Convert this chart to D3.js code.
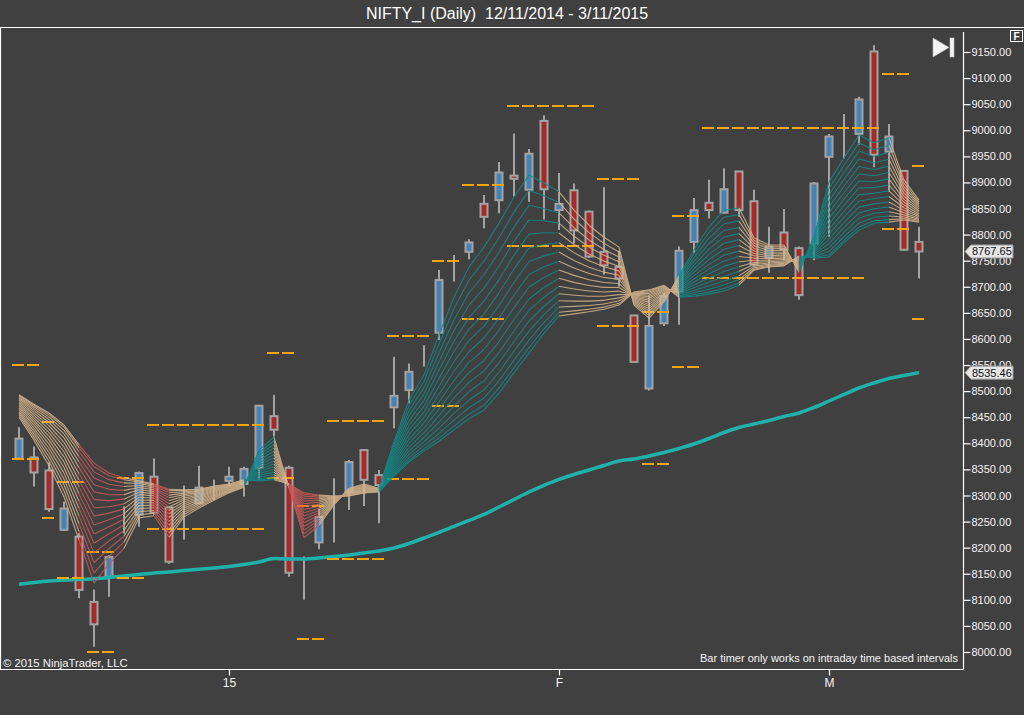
<!DOCTYPE html>
<html>
<head>
<meta charset="utf-8">
<script src="https://cdnjs.cloudflare.com/ajax/libs/d3/7.8.5/d3.min.js"></script>
<style>
  body { margin: 0; background: #404040; overflow: hidden; }
  svg { display: block; font-family: Arial, "Liberation Sans", sans-serif; }
</style>
</head>
<body>
<svg id="chart" width="1024" height="715"></svg>
<script>
// daily bars, 1..61
const opens  = [8371,8373,8348,8234,8221,8096,8144,8238,8263,8336,8277,8275,8285,8327,8328,8322,8353,8452,8353,8155,
                8210,8312,8307,8387,8339,8469,8502,8578,8612,8742,8767,8859,8866,8913,8886,9018,8847,8885,8844,8767,
                8738,8645,8505,8630,8691,8786,8861,8842,8921,8864,8755,8804,8774,8783,8949,9006,8993,9151,8959,8922,8786];
const highs  = [8431,8394,8363,8288,8228,8120,8186,8279,8346,8371,8279,8319,8357,8330,8355,8355,8474,8493,8357,8183,
                8274,8333,8368,8389,8349,8566,8553,8588,8732,8761,8791,8876,8939,8994,8964,9029,8918,8898,8846,8891,
                8769,8646,8684,8688,8777,8870,8905,8927,8922,8886,8815,8849,8777,8901,8993,9031,9064,9163,9012,8924,8815];
const lows   = [8368,8317,8269,8232,8103,8010,8106,8227,8240,8263,8169,8215,8284,8291,8317,8298,8330,8413,8144,8100,
                8197,8210,8272,8280,8247,8429,8477,8547,8598,8710,8753,8812,8841,8873,8863,8829,8809,8783,8755,8723,
                8700,8555,8501,8625,8627,8765,8831,8841,8834,8739,8727,8751,8675,8751,8796,8946,8972,8929,8882,8769,8716];
const closes = [8409,8344,8274,8275,8119,8053,8182,8238,8343,8267,8173,8275,8315,8327,8336,8351,8472,8426,8152,8155,
                8259,8312,8364,8330,8320,8491,8537,8578,8713,8742,8785,8834,8919,8907,8955,8887,8859,8808,8758,8741,
                8716,8556,8625,8682,8769,8847,8847,8887,8847,8743,8777,8771,8684,8898,8988,9006,9059,8953,8988,8771,8767.65];

// slow moving average (thick line)
const slowMA = [8129.8,8133.2,8136.1,8138.0,8139.0,8140.5,8142.8,8145.7,8148.6,8151.4,8153.4,8156.2,8158.5,8161.0,8163.9,
                8167.7,8172.5,8179.2,8178.3,8178.3,8180.2,8183.1,8185.9,8189.8,8193.6,8199.4,8208.0,8218.5,8229.1,8240.6,
                8252.1,8263.6,8277.9,8292.3,8306.7,8319.2,8330.7,8340.2,8348.9,8357.5,8366.1,8370.0,8375.7,8382.4,8390.1,
                8398.7,8409.2,8420.7,8430.3,8437.0,8443.7,8451.4,8458.1,8468.7,8481.1,8493.6,8506.0,8515.6,8524.2,8530.0,8535.46];

// ribbon: fastest and slowest member
const ribbonFast = [8450,8406,8357,8297,8215,8132,8169,8199,8257,8261,8220,8259,8276,8291,8305,8316,8387,8412,8314,8219,
                    8243,8282,8314,8322,8314,8403,8483,8531,8608,8680,8738,8776,8822,8872,8914,8899,8882,8847,8818,8795,
                    8776,8665,8640,8671,8721,8771,8815,8847,8851,8794,8780,8780,8728,8797,8901,8947,8991,8976,8985,8905,8866];
const ribbonSlow = [8493,8475,8458,8435,8397,8362,8343,8334,8328,8322,8312,8311,8312,8318,8322,8330,8328,8330,8322,8305,
                    8301,8299,8299,8305,8307,8337,8364,8385,8404,8426,8447,8464,8496,8535,8573,8611,8644,8648,8652,8657,
                    8665,8690,8694,8703,8680,8682,8686,8692,8703,8732,8738,8740,8759,8755,8757,8784,8809,8822,8824,8828,8824];
// n = neutral, d = down, u = up (segment ending at that bar)
const ribbonState = "nnnnndddnndnnnnnuunddnnnnuuuuuuuuuuuunnnnnnnnuuuunnnnuuuuuunn".split("");

// dashed levels: first bar, last bar, price
const levelFrom  = [1,1,3,3,4,4,6,6,8,8,10,10,18,18,20,20,22,22,26,26,29,29,31,31,34,34,40,40,43,43,45,45,47,47,59,59,61,61];
const levelTo    = [2,2,3,3,5,5,7,7,9,9,17,17,19,19,21,21,25,25,28,28,30,30,33,33,39,39,42,42,44,44,46,46,58,57,60,60,61,61];
const levelPrice = [8551,8369,8441,8256,8325,8142,8192,8000,8334,8142,8436,8236,8574,8334,8280,8025,8443,8178,8606,8332,
                    8749,8472,8895,8638,9046,8779,8907,8625,8652,8361,8836,8547,9004,8717,9107,8811,8932,8639];

const xTickBars = [15, 37, 55];
const xTickLabels = ["15", "F", "M"];
const yTicks = [8000,8050,8100,8150,8200,8250,8300,8350,8400,8450,8500,8550,8600,8650,8700,8750,
                8800,8850,8900,8950,9000,9050,9100,9150];

const svg = d3.select("#chart");
const x = d3.scaleLinear().domain([1, 61]).range([19, 919]);
const y = d3.scaleLinear().domain([8000, 9150]).range([652, 52]);
const bars = d3.range(opens.length);

svg.append("rect").attr("width", 1024).attr("height", 715).attr("fill", "#404040");

svg.append("text")
  .attr("x", 507).attr("y", 19)
  .attr("text-anchor", "middle")
  .attr("fill", "#ffffff")
  .attr("font-size", 16)
  .style("white-space", "pre")
  .text("NIFTY_I (Daily)  12/11/2014 - 3/11/2015");

svg.append("defs").append("clipPath").attr("id", "plot")
  .append("rect").attr("x", 1).attr("y", 28).attr("width", 962).attr("height", 641);

const plot = svg.append("g").attr("clip-path", "url(#plot)");

// candles
const candle = plot.append("g").selectAll("g").data(bars).enter().append("g");
candle.append("line")
  .attr("x1", i => x(i + 1)).attr("x2", i => x(i + 1))
  .attr("y1", i => y(highs[i])).attr("y2", i => y(lows[i]))
  .attr("stroke", "#a3a3a3").attr("stroke-width", 2);
candle.append("rect")
  .attr("x", i => x(i + 1) - 3.5)
  .attr("y", i => y(Math.max(opens[i], closes[i])))
  .attr("width", 7)
  .attr("height", i => Math.abs(y(opens[i]) - y(closes[i])))
  .attr("fill", i => closes[i] > opens[i] ? "#4682b4" : (closes[i] < opens[i] ? "#a52a2a" : "#a3a3a3"))
  .attr("stroke", "#a3a3a3").attr("stroke-width", 2);

// slow MA
plot.append("path")
  .datum(bars)
  .attr("fill", "none")
  .attr("stroke", "#20b2aa")
  .attr("stroke-width", 3.5)
  .attr("d", d3.line().x(i => x(i + 1)).y(i => y(slowMA[i])).curve(d3.curveMonotoneX));

// dashed levels
plot.append("g").selectAll("line").data(levelPrice).enter().append("line")
  .attr("x1", (d, i) => x(levelFrom[i]) - 7)
  .attr("x2", (d, i) => x(levelTo[i]) + 7)
  .attr("y1", d => Math.round(y(d)))
  .attr("y2", d => Math.round(y(d)))
  .attr("stroke", "#ffa500").attr("stroke-width", 2)
  .attr("stroke-dasharray", "12,3");

// ribbon
const ribbonColor = { n: "#d8b78e", d: "#c95a5a", u: "#128a8a" };
const nLines = 16;
const segs = [];
for (let k = 0; k < nLines; k++) {
  const t = 1 - Math.pow(1 - k / (nLines - 1), 1.3);
  for (let i = 1; i < bars.length; i++) {
    segs.push({
      x1: x(i), x2: x(i + 1),
      v1: ribbonFast[i - 1] + (ribbonSlow[i - 1] - ribbonFast[i - 1]) * t,
      v2: ribbonFast[i] + (ribbonSlow[i] - ribbonFast[i]) * t,
      c: ribbonColor[ribbonState[i]]
    });
  }
}
plot.append("g").attr("opacity", 0.85).selectAll("line").data(segs).enter().append("line")
  .attr("x1", d => d.x1).attr("x2", d => d.x2)
  .attr("y1", d => y(d.v1)).attr("y2", d => y(d.v2))
  .attr("stroke", d => d.c).attr("stroke-width", 1.1);

// frame
const frame = svg.append("g").attr("stroke", "#ffffff").attr("stroke-width", 1.2);
frame.append("line").attr("x1", 0).attr("x2", 1024).attr("y1", 27.5).attr("y2", 27.5);
frame.append("line").attr("x1", 963.5).attr("x2", 963.5).attr("y1", 32).attr("y2", 669.5);
frame.append("line").attr("x1", 0).attr("x2", 963.5).attr("y1", 669.5).attr("y2", 669.5);
frame.append("line").attr("x1", 0.5).attr("x2", 0.5).attr("y1", 27.5).attr("y2", 669.5);

// price axis
const yAxis = svg.append("g").attr("transform", "translate(963.5,0)")
  .call(d3.axisRight(y).tickValues(yTicks).tickSize(7).tickPadding(1).tickFormat(d3.format(".2f")));
yAxis.select(".domain").remove();
yAxis.selectAll("line").attr("stroke", "#ffffff").attr("stroke-width", 1.2);
yAxis.selectAll("text").attr("fill", "#f4f4f4").attr("font-size", 11)
  .attr("font-family", "Arial, 'Liberation Sans', sans-serif");

// time axis
const xAxis = svg.append("g").attr("transform", "translate(0,669.5)")
  .call(d3.axisBottom(x).tickValues(xTickBars).tickSize(6).tickPadding(3)
    .tickFormat((d, i) => xTickLabels[i]));
xAxis.select(".domain").remove();
xAxis.selectAll("line").attr("stroke", "#ffffff").attr("stroke-width", 1.2);
xAxis.selectAll("text").attr("fill", "#f4f4f4").attr("font-size", 12)
  .attr("font-family", "Arial, 'Liberation Sans', sans-serif");

// last-value markers
const markers = [closes[closes.length - 1], slowMA[slowMA.length - 1]];
const mk = svg.append("g").selectAll("g").data(markers).enter().append("g")
  .attr("transform", d => "translate(0," + y(d) + ")");
mk.append("path")
  .attr("d", "M965,0 L971,-6.5 L1013,-6.5 L1013,6.5 L971,6.5 Z")
  .attr("fill", "#e6e6e6").attr("stroke", "#9a9a9a").attr("stroke-width", 1);
mk.append("text")
  .attr("x", 972).attr("y", 4)
  .attr("fill", "#111111").attr("font-size", 11)
  .text(d => d3.format(".2f")(d));

// top-right widgets
svg.append("rect").attr("x", 1010.5).attr("y", 30.5).attr("width", 12).attr("height", 11)
  .attr("fill", "none").attr("stroke", "#ffffff").attr("stroke-width", 1);
svg.append("text").attr("x", 1016.5).attr("y", 39.8).attr("text-anchor", "middle")
  .attr("fill", "#ffffff").attr("font-size", 10).attr("font-weight", "bold").text("F");
svg.append("path").attr("d", "M933,38 L949,47.5 L933,57 Z")
  .attr("fill", "#f4f4f4").attr("stroke", "#bbbbbb").attr("stroke-width", 0.6);
svg.append("rect").attr("x", 950).attr("y", 38).attr("width", 4).attr("height", 19)
  .attr("fill", "#f4f4f4").attr("stroke", "#bbbbbb").attr("stroke-width", 0.6);

// footer texts
svg.append("text").attr("x", 3).attr("y", 666.5)
  .attr("fill", "#f4f4f4").attr("font-size", 11.3).text("© 2015 NinjaTrader, LLC");
svg.append("text").attr("x", 958).attr("y", 661.7).attr("text-anchor", "end")
  .attr("fill", "#f4f4f4").attr("font-size", 11)
  .text("Bar timer only works on intraday time based intervals");
</script>
</body>
</html>
